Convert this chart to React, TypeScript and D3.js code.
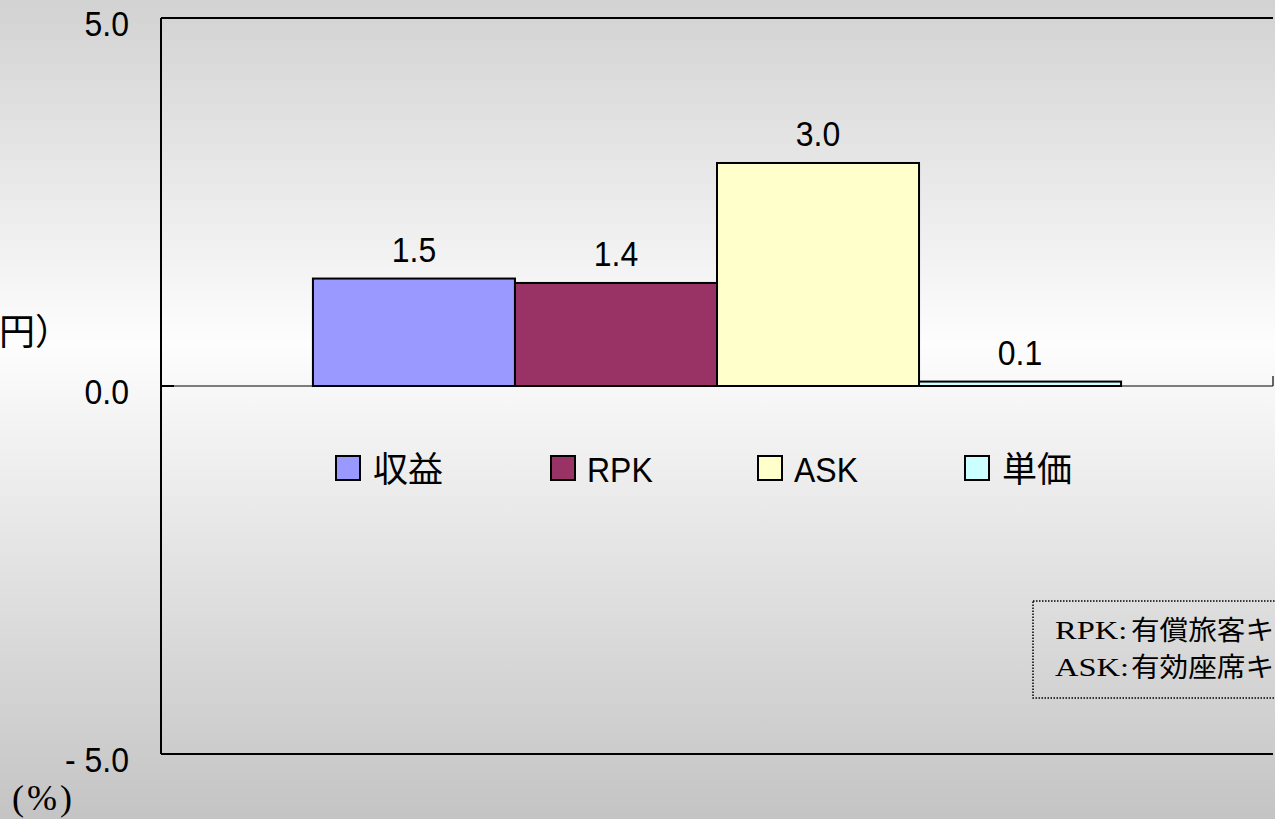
import React from "react";
import * as d3 from "d3";

const categories = [""];
const seriesNames = ["収益", "RPK", "ASK", "単価"];
const seriesValues = [1.46, 1.4, 3.03, 0.06];
const seriesColors = ["#9999ff", "#993366", "#ffffcc", "#ccffff"];
const yTicks = [5, 0, -5];
const noteAbbr = ["RPK:", "ASK:"];
const noteText = ["有償旅客キロ", "有効座席キロ"];

const W = 1275;
const H = 819;
const left = 161;
const right = 1273;
const top = 18;
const bottom = 754;

const SANS = "'Liberation Sans', Arial, sans-serif";
const CJK = "'Noto Sans CJK JP', sans-serif";
const SERIF = "'Liberation Serif', 'Times New Roman', serif";

export default function App() {
  const y = d3.scaleLinear().domain([-5, 5]).range([bottom, top]);
  const x0 = d3.scaleBand<string>().domain(categories).range([left, right]).paddingInner(0).paddingOuter(0.188);
  const x1 = d3.scaleBand<string>().domain(seriesNames).range([0, x0.bandwidth()]).padding(0);
  const fmt = (v: number) => (Math.round(v * 10) / 10).toFixed(1);
  const legendX = [336, 551, 758, 965];

  return (
    <svg width={W} height={H} style={{ position: "absolute", left: 0, top: 0, display: "block" }}>
      <defs>
        <linearGradient id="bg" x1="0" y1="0" x2="0" y2="1">
          <stop offset="0" stopColor="#d2d2d2" />
          <stop offset="0.42" stopColor="#fdfdfd" />
          <stop offset="1" stopColor="#c4c4c4" />
        </linearGradient>
      </defs>
      <rect x={0} y={0} width={W} height={H} fill="url(#bg)" />

      {/* zero line */}
      <line x1={left} x2={right} y1={y(0)} y2={y(0)} stroke="#555" strokeWidth={1.5} />
      <line x1={right} x2={right} y1={y(0) - 10} y2={y(0)} stroke="#333" strokeWidth={1.5} />

      {/* bars */}
      {categories.map((c) =>
        seriesNames.map((s, i) => {
          const v = seriesValues[i];
          const bx = (x0(c) ?? 0) + (x1(s) ?? 0);
          const by = y(Math.max(0, v));
          const bh = Math.abs(y(v) - y(0));
          return (
            <g key={c + s}>
              <rect x={bx} y={by} width={x1.bandwidth()} height={bh} fill={seriesColors[i]} stroke="#000" strokeWidth={2} />
              <text
                transform={`translate(${bx + x1.bandwidth() / 2},${by - 17}) scale(1,1.12)`}
                textAnchor="middle"
                fontFamily={SANS}
                fontSize={32}
                fill="#000"
              >
                {fmt(v)}
              </text>
            </g>
          );
        })
      )}

      {/* plot frame */}
      <line x1={left} x2={right} y1={top} y2={top} stroke="#000" strokeWidth={2} />
      <line x1={left} x2={right} y1={bottom} y2={bottom} stroke="#000" strokeWidth={2} />
      <line x1={left} x2={left} y1={top} y2={bottom} stroke="#000" strokeWidth={2} />

      {/* y ticks */}
      {yTicks.map((t) => (
        <g key={t}>
          <line x1={left} x2={left + 13} y1={y(t)} y2={y(t)} stroke="#000" strokeWidth={2} />
          <text
            transform={`translate(129,${y(t) + 18}) scale(1,1.12)`}
            textAnchor="end"
            fontFamily={SANS}
            fontSize={32}
            fill="#000"
          >
            {t < 0 ? "- " + Math.abs(t).toFixed(1) : t.toFixed(1)}
          </text>
        </g>
      ))}

      {/* y axis title (partially off-canvas, as in the reference) */}
      <text x={71} y={345} textAnchor="end" fontFamily={CJK} fontSize={36} fill="#000">
        （億円）
      </text>

      {/* unit */}
      <text x={12} y={810} fontFamily={SERIF} fontSize={36} fill="#000" letterSpacing={3}>
        (%)
      </text>

      {/* legend */}
      {seriesNames.map((s, i) => {
        const isCjk = /[^\x00-\x7f]/.test(s);
        return (
          <g key={s}>
            <rect x={legendX[i]} y={456} width={24} height={24} fill={seriesColors[i]} stroke="#000" strokeWidth={2} />
            {isCjk ? (
              <text x={legendX[i] + 37} y={482} fontFamily={CJK} fontSize={35} fill="#000">
                {s}
              </text>
            ) : (
              <text
                transform={`translate(${legendX[i] + 36},482) scale(1,1.12)`}
                fontFamily={SANS}
                fontSize={32}
                fill="#000"
              >
                {s}
              </text>
            )}
          </g>
        );
      })}

      {/* note box */}
      <rect x={1033} y={601} width={300} height={97} fill="none" stroke="#000" strokeWidth={1.5} strokeDasharray="1.5,1.5" />
      {noteAbbr.map((a, i) => (
        <g key={a}>
          <text transform={`translate(1055,${639 + i * 37}) scale(1.3,1)`} fontFamily={SERIF} fontSize={25} fill="#000">
            {a}
          </text>
          <text transform={`translate(1131,${640 + i * 37}) scale(1.06,1)`} fontFamily={CJK} fontSize={27} fill="#000">
            {noteText[i]}
          </text>
        </g>
      ))}
    </svg>
  );
}
